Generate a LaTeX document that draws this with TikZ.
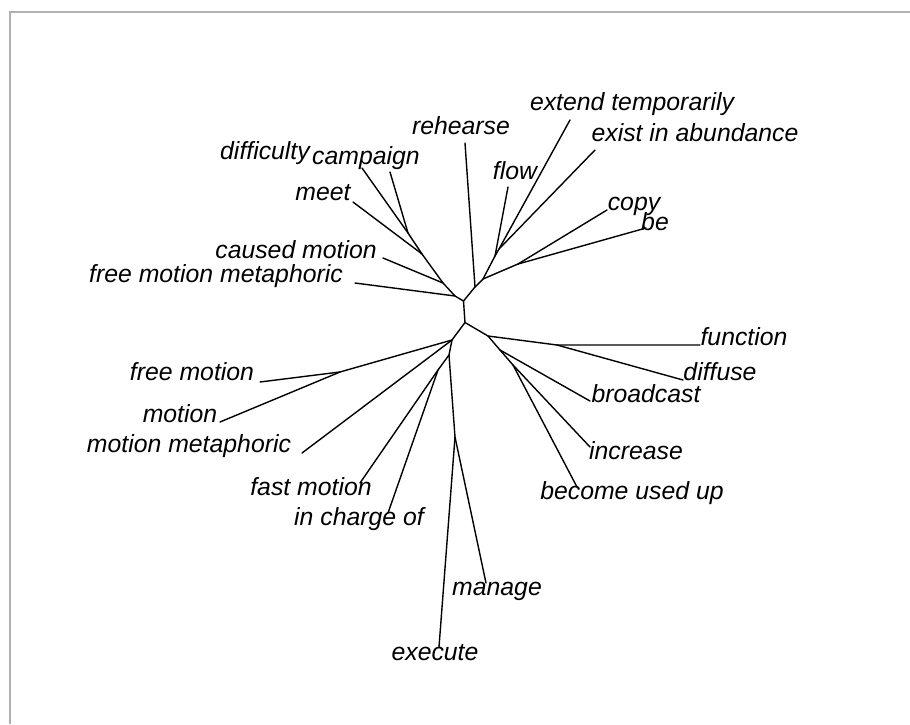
\documentclass[tikz,border=0pt]{standalone}
\usepackage{fontspec}
\setmainfont{Liberation Sans}
\definecolor{framegray}{HTML}{B0B0B0}
\tikzset{
  leaf/.style={anchor=mid, inner sep=0pt, yshift=-5pt, font=\fontsize{24.8}{29}\selectfont\itshape},
  branch/.style={line width=1.4pt, line cap=round, line join=round},
}

\begin{document}
\begin{tikzpicture}[x=1pt, y=-1pt]
  \useasboundingbox (0,0) rectangle (910,724);
  \draw[framegray, line width=2.5pt] (910,12) -- (10,12) -- (10,724);

  % inner nodes
  \coordinate (J1) at (463.5,301);
  \coordinate (J2) at (465,322.5);
  \coordinate (P1) at (455,296);
  \coordinate (P2) at (443,283);
  \coordinate (P3) at (422,254);
  \coordinate (P4) at (408,233);
  \coordinate (RH) at (475,287);
  \coordinate (U)  at (483,279);
  \coordinate (FJ) at (495,256);
  \coordinate (EE) at (499,249);
  \coordinate (CB) at (518,264);
  \coordinate (L)  at (452,340);
  \coordinate (FM) at (340,372);
  \coordinate (M)  at (449,355);
  \coordinate (FC) at (438,370);
  \coordinate (EM) at (455,437);
  \coordinate (R)  at (488,336);
  \coordinate (FD) at (557,345);
  \coordinate (RB) at (500,350);
  \coordinate (RC) at (513,365);

  % tips
  \coordinate (tFmm)   at (355,283);
  \coordinate (tCaus)  at (383,258);
  \coordinate (tMeet)  at (353,202);
  \coordinate (tDiff)  at (362,168);
  \coordinate (tCamp)  at (390,172);
  \coordinate (tReh)   at (465,143);
  \coordinate (tFlow)  at (508,187);
  \coordinate (tExt)   at (570,120);
  \coordinate (tExist) at (595,150);
  \coordinate (tCopy)  at (607,210);
  \coordinate (tBe)    at (646,228);
  \coordinate (tFree)  at (260,382);
  \coordinate (tMot)   at (220,422);
  \coordinate (tMm)    at (302,453);
  \coordinate (tFast)  at (360,483);
  \coordinate (tCharge) at (388,513);
  \coordinate (tExec)  at (439,647);
  \coordinate (tMan)   at (486,583);
  \coordinate (tFunc)  at (700,345);
  \coordinate (tDiffu) at (683,380);
  \coordinate (tBroad) at (590,401);
  \coordinate (tIncr)  at (590,447);
  \coordinate (tUsed)  at (577,487);

  % labels
  \node[leaf] (lDiff)   at (265,152) {difficulty};
  \node[leaf] (lCamp)   at (366,157) {campaign};
  \node[leaf] (lMeet)   at (323,193) {meet};
  \node[leaf] (lCaus)   at (296,251) {caused motion};
  \node[leaf] (lFmm)    at (216,275) {free motion metaphoric};
  \node[leaf] (lReh)    at (461,127) {rehearse};
  \node[leaf] (lFlow)   at (515,172) {flow};
  \node[leaf] (lExt)    at (632,103) {extend temporarily};
  \node[leaf] (lExist)  at (695,134) {exist in abundance};
  \node[leaf] (lCopy)   at (634,203) {copy};
  \node[leaf] (lBe)     at (655,223) {be};
  \node[leaf] (lFunc)   at (744,338) {function};
  \node[leaf] (lDiffu)  at (720,373) {diffuse};
  \node[leaf] (lBroad)  at (646,395) {broadcast};
  \node[leaf] (lIncr)   at (636,452) {increase};
  \node[leaf] (lUsed)   at (632,492) {become used up};
  \node[leaf] (lFree)   at (192,373) {free motion};
  \node[leaf] (lMot)    at (180,415) {motion};
  \node[leaf] (lMm)     at (189,445) {motion metaphoric};
  \node[leaf] (lFast)   at (311,488) {fast motion};
  \node[leaf] (lCharge) at (359,518) {in charge of};
  \node[leaf] (lMan)    at (497,588) {manage};
  \node[leaf] (lExec)   at (435,653) {execute};

  % upper part
  \draw[branch] (J2) -- (J1) -- (P1) -- (P2) -- (P3) -- (P4) -- (tDiff);
  \draw[branch] (P1) -- (tFmm);
  \draw[branch] (P2) -- (tCaus);
  \draw[branch] (P3) -- (tMeet);
  \draw[branch] (P4) -- (tCamp);
  \draw[branch] (J1) -- (RH) -- (U) -- (FJ) -- (EE) -- (tExt);
  \draw[branch] (RH) -- (tReh);
  \draw[branch] (FJ) -- (tFlow);
  \draw[branch] (EE) -- (tExist);
  \draw[branch] (U) -- (CB) -- (tCopy);
  \draw[branch] (CB) -- (tBe);

  % lower part
  \draw[branch] (J2) -- (L) -- (FM) -- (tFree);
  \draw[branch] (FM) -- (tMot);
  \draw[branch] (L) -- (tMm);
  \draw[branch] (L) -- (M) -- (FC) -- (tFast);
  \draw[branch] (FC) -- (tCharge);
  \draw[branch] (M) -- (EM) -- (tExec);
  \draw[branch] (EM) -- (tMan);
  \draw[branch] (J2) -- (R) -- (FD) -- (tFunc);
  \draw[branch] (FD) -- (tDiffu);
  \draw[branch] (R) -- (RB) -- (tBroad);
  \draw[branch] (RB) -- (RC) -- (tIncr);
  \draw[branch] (RC) -- (tUsed);
\end{tikzpicture}
\end{document}
